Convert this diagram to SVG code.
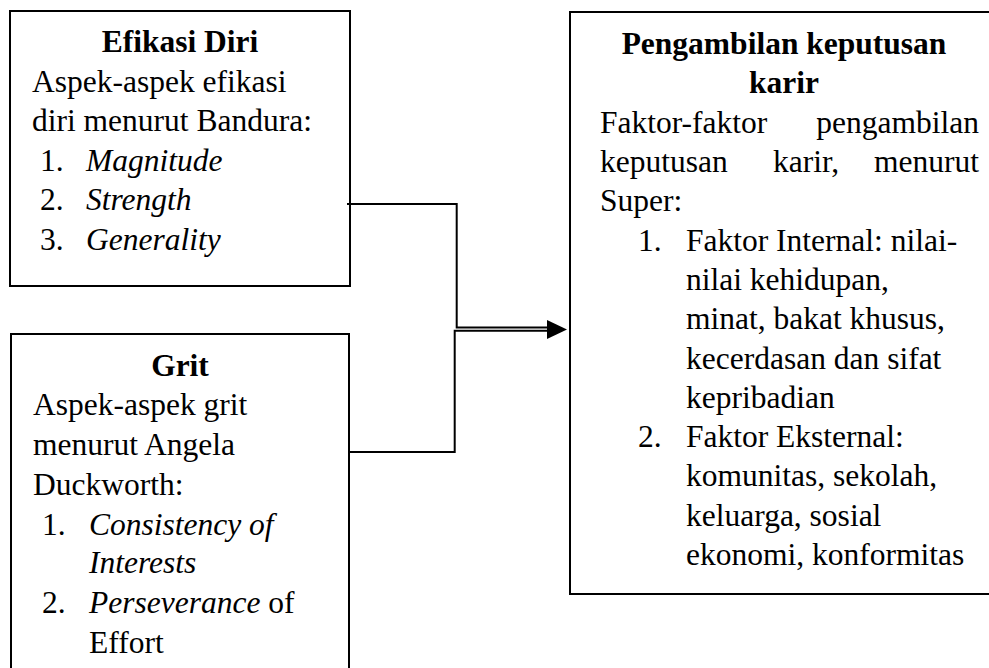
<svg xmlns="http://www.w3.org/2000/svg" width="989" height="668" viewBox="0 0 989 668">
<style>
.box{fill:#fff;stroke:#000;stroke-width:2}
.t{font-family:"Liberation Serif","Times New Roman",serif;font-size:31.5px;fill:#000}
.b{font-weight:bold}
.i{font-style:italic}
.c{text-anchor:middle}
.e{text-anchor:end}
.ln{fill:none;stroke:#000;stroke-width:2}
</style>
<rect width="989" height="668" fill="#fff"/>
<g id="node-efikasi">
<rect class="box" x="10" y="11" width="340" height="275"/>
<text class="t b c" x="180" y="52">Efikasi Diri</text>
<text class="t" x="32" y="92">Aspek-aspek efikasi</text>
<text class="t" x="32" y="131">diri menurut Bandura:</text>
<text class="t" x="40" y="171">1.</text><text class="t i" x="86" y="171">Magnitude</text>
<text class="t" x="40" y="210">2.</text><text class="t i" x="86" y="210">Strength</text>
<text class="t" x="40" y="250">3.</text><text class="t i" x="86" y="250">Generality</text>
</g>
<g id="node-grit">
<rect class="box" x="11" y="334" width="338" height="350"/>
<text class="t b c" x="180" y="376">Grit</text>
<text class="t" x="33" y="415">Aspek-aspek grit</text>
<text class="t" x="33" y="455">menurut Angela</text>
<text class="t" x="33" y="495">Duckworth:</text>
<text class="t" x="42" y="535">1.</text><text class="t i" x="89" y="535">Consistency of</text>
<text class="t i" x="89" y="573">Interests</text>
<text class="t" x="42" y="613">2.</text><text class="t" x="89" y="613"><tspan class="i">Perseverance</tspan> of</text>
<text class="t" x="89" y="653">Effort</text>
</g>
<g id="node-karir">
<rect class="box" x="570" y="12" width="440" height="582"/>
<text class="t b c" x="784" y="54">Pengambilan keputusan</text>
<text class="t b c" x="784" y="93">karir</text>
<text class="t" x="600" y="133">Faktor-faktor</text><text class="t e" x="979" y="133">pengambilan</text>
<text class="t" x="600" y="172">keputusan</text><text class="t" x="773" y="172">karir,</text><text class="t e" x="979" y="172">menurut</text>
<text class="t" x="600" y="211">Super:</text>
<text class="t" x="638" y="251">1.</text><text class="t" x="686" y="251">Faktor Internal: nilai-</text>
<text class="t" x="686" y="290">nilai kehidupan,</text>
<text class="t" x="686" y="329">minat, bakat khusus,</text>
<text class="t" x="686" y="369">kecerdasan dan sifat</text>
<text class="t" x="686" y="408">kepribadian</text>
<text class="t" x="638" y="447">2.</text><text class="t" x="686" y="447">Faktor Eksternal:</text>
<text class="t" x="686" y="486">komunitas, sekolah,</text>
<text class="t" x="686" y="526">keluarga, sosial</text>
<text class="t" x="686" y="565">ekonomi, konformitas</text>
</g>
<g id="connectors">
<path class="ln" d="M347,204 H456.7 V327.5 H550"/>
<path class="ln" d="M349,452 H454.7 V330.7 H550"/>
<polygon points="547,320 567,329.5 547,339" fill="#000"/>
</g>
</svg>
